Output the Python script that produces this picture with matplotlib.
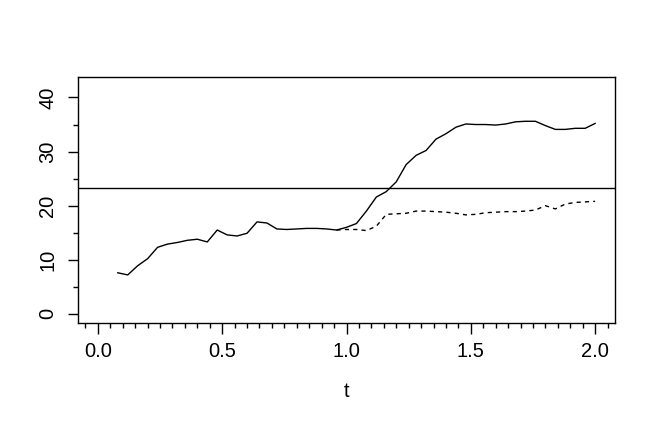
import numpy as np
import matplotlib
matplotlib.use('Agg')
import matplotlib.pyplot as plt
from matplotlib.ticker import FixedLocator

# --- data ---
t_solid = np.round(np.arange(0.08, 2.001, 0.04), 2)
y_solid = [7.6, 7.2, 8.9, 10.2, 12.3, 12.9, 13.2, 13.6, 13.8, 13.3,
           15.5, 14.6, 14.4, 14.9, 17.0, 16.8, 15.7, 15.6, 15.7, 15.8,
           15.8, 15.7, 15.5, 16.0, 16.7, 19.0, 21.6, 22.6, 24.4, 27.6,
           29.3, 30.2, 32.3, 33.3, 34.5, 35.1, 35.0, 35.0, 34.9, 35.1,
           35.5, 35.6, 35.6, 34.8, 34.1, 34.1, 34.3, 34.3, 35.2]

t_dashed = np.round(np.arange(0.96, 2.001, 0.04), 2)
y_dashed = [15.5, 15.6, 15.6, 15.4, 16.2, 18.4, 18.5, 18.6, 19.0, 19.0,
            18.9, 18.8, 18.6, 18.3, 18.4, 18.7, 18.8, 18.9, 18.9, 19.0,
            19.2, 20.0, 19.4, 20.3, 20.6, 20.7, 20.8]

hline_value = 23.3
x_major = [0.0, 0.5, 1.0, 1.5, 2.0]
x_labels = ['0.0', '0.5', '1.0', '1.5', '2.0']
y_major = [0, 10, 20, 30, 40]
y_minor = [5, 15, 25, 35]

plt.rcParams['font.family'] = ['Liberation Sans', 'DejaVu Sans']

fig = plt.figure(figsize=(6.54, 4.21), dpi=100)
ax = fig.add_axes([78 / 654, 1 - 323 / 421, (615 - 78) / 654, (323 - 77) / 421])

ax.plot(t_solid, y_solid, color='black', lw=1.0)
ax.plot(t_dashed, y_dashed, color='black', lw=1.0, ls=(0, (3, 3)))
ax.axhline(hline_value, color='black', lw=1.0)

# R-style 4% padding
ax.set_xlim(0 - 0.04 * 2.0, 2.0 + 0.04 * 2.0)
ax.set_ylim(0 - 0.04 * 42.1, 42.1 + 0.04 * 42.1)

ax.set_xticks(x_major)
ax.set_xticklabels(x_labels)
ax.xaxis.set_minor_locator(FixedLocator(np.round(np.arange(-0.05, 2.051, 0.05), 2)))
ax.set_yticks(y_major)
ax.set_yticklabels([str(v) for v in y_major], rotation=90, va='center')
ax.yaxis.set_minor_locator(FixedLocator(y_minor))

ax.tick_params(axis='both', which='major', length=7, width=1.0, labelsize=14.5, color='black')
ax.tick_params(axis='both', which='minor', length=3.8, width=1.0, color='black')
ax.tick_params(axis='x', which='major', length=8, pad=6)
ax.tick_params(axis='y', which='major', pad=8)

for s in ax.spines.values():
    s.set_linewidth(1.0)

ax.set_xlabel('t', fontsize=14.5, labelpad=15)

fig.savefig('out.png', dpi=100)
